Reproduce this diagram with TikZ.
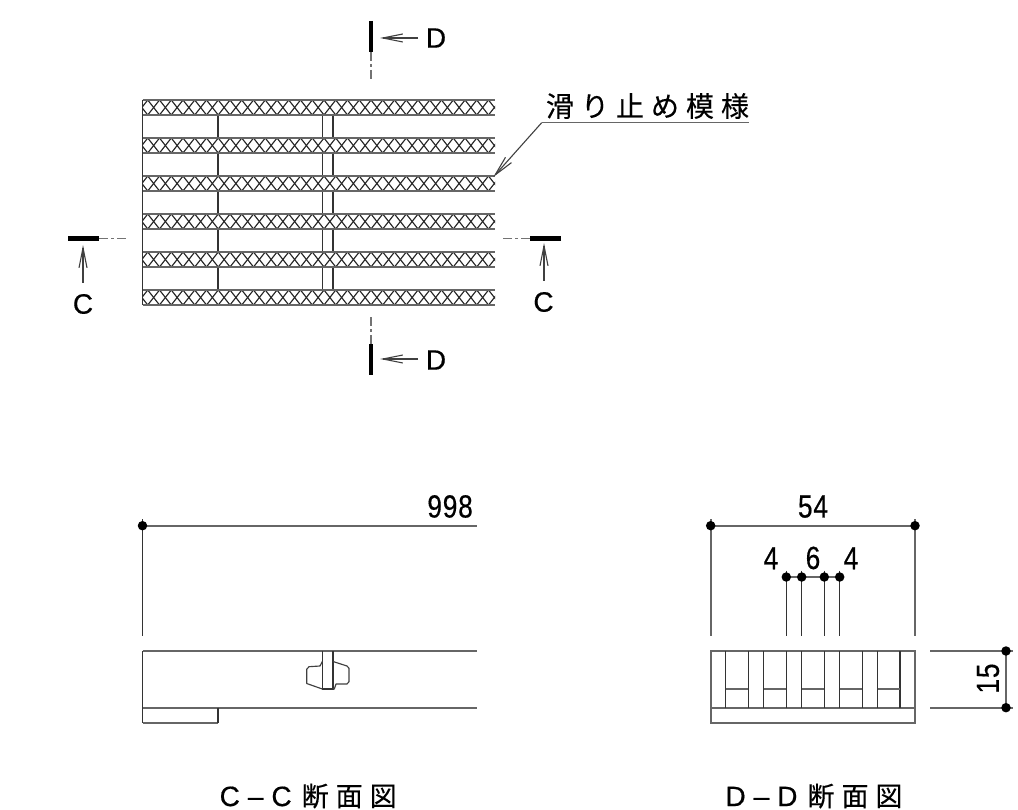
\documentclass[tikz,border=0pt]{standalone}
\usepackage{fontspec}
\setmainfont{Liberation Sans}
\newfontfamily\cjk[FakeBold=0.35]{Noto Sans CJK JP}
\newfontfamily\lab[FakeBold=0.5]{Liberation Sans}
\usetikzlibrary{arrows.meta,backgrounds}
\newcommand{\narrownum}[1]{\scalebox{0.82}[1]{\lab\fontsize{32}{32}\selectfont #1}}
\tikzset{
  ln/.style={line width=1.25pt,draw=black!80},
  hl/.style={line width=1.6pt,draw=black!60},
  hatchline/.style={line width=1.15pt,draw=black!85},
  lug/.style={line width=1.15pt,draw=black!75,line join=round},
  thick mark/.style={line width=4.4pt,draw=black},
  chain/.style={line width=1.4pt,draw=black!55,dash pattern=on 9pt off 3pt on 3pt off 3pt},
  arr/.style={line width=1.1pt,draw=black!75,-{Straight Barb[length=20pt,width=8pt]}},
  lbl/.style={font=\lab\fontsize{28}{28}\selectfont,inner sep=0pt,text=black},
  dimtxt/.style={inner sep=0pt,text=black},
  dot/.style={circle,fill=black,inner sep=0pt,minimum size=9.5pt},
  jp/.style={font=\cjk\fontsize{28}{28}\selectfont,inner sep=0pt,text=black},
  jpt/.style={font=\lab\fontsize{28}{28}\selectfont,inner sep=0pt,text=black}
}
\begin{document}
\begin{tikzpicture}[x=1pt,y=-1pt]
\useasboundingbox (0,0) rectangle (1018,810);
% verticals in the gaps
\draw[ln] (142.5,100) -- (142.5,305);
\foreach \y in {115,153,191,229,267}{
  \draw[ln] (218,\y) -- (218,\y+23);
  \draw[ln] (322.3,\y) -- (322.3,\y+23);
  \draw[ln] (333,\y) -- (333,\y+23);
}
% tread bars
\foreach \y in {100,138,176,214,252,290}{
  \begin{scope}
    \clip (142.5,\y) rectangle (495,\y+15);
    \foreach \k in {0,...,30}{
      \draw[hatchline] (136+\k*11.75,\y) -- (147.75+\k*11.75,\y+15);
      \draw[hatchline] (147.75+\k*11.75,\y) -- (136+\k*11.75,\y+15);
    }
  \end{scope}
  \draw[hl] (142.5,\y) -- (495,\y);
  \draw[hl] (142.5,\y+15) -- (495,\y+15);
}
% section marks
\coordinate (cl1) at (68,238.5); \coordinate (cl2) at (99,238.5); \coordinate (cl3) at (128,238.5);
\coordinate (cla) at (83,283); \coordinate (clb) at (83,245);
\node[lbl] (cleft) at (83,304) {C};
\draw[thick mark] (cl1) -- (cl2); \draw[chain] (cl2) -- (cl3); \draw[arr] (cla) -- (clb);
\coordinate (cr1) at (561,238.5); \coordinate (cr2) at (530,238.5); \coordinate (cr3) at (501,238.5);
\coordinate (cra) at (544,281); \coordinate (crb) at (544,243);
\node[lbl] (cright) at (543.5,302) {C};
\draw[thick mark] (cr1) -- (cr2); \draw[chain] (cr2) -- (cr3); \draw[arr] (cra) -- (crb);
\coordinate (dt1) at (371,21); \coordinate (dt2) at (371,52); \coordinate (dt3) at (371,80);
\coordinate (dta) at (418,38); \coordinate (dtb) at (380,38);
\node[lbl] (dtop) at (436,38) {D};
\draw[thick mark] (dt1) -- (dt2); \draw[chain] (dt2) -- (dt3); \draw[arr] (dta) -- (dtb);
\coordinate (db1) at (371,375); \coordinate (db2) at (371,344); \coordinate (db3) at (371,316);
\coordinate (dba) at (418,359); \coordinate (dbb) at (380,359);
\node[lbl] (dbot) at (436,360) {D};
\draw[thick mark] (db1) -- (db2); \draw[chain] (db2) -- (db3); \draw[arr] (dba) -- (dbb);
% leader
\node[jp] (pat) at (647.5,106) {滑\hspace{7pt}り\hspace{7pt}止\hspace{7pt}め\hspace{7pt}模\hspace{7pt}様};
\coordinate (ul) at (541.7,122.7); \coordinate (ur) at (749,122.7); \coordinate (lt) at (493.3,177);
\draw[hl] (ul) -- (ur);
\draw[arr] (ul) -- (lt);
% C-C section
\draw[hl] (142.5,651) -- (477,651);
\draw[hl] (142.5,707.7) -- (477,707.7);
\draw[hl] (142.5,722.7) -- (218,722.7);
\draw[ln] (142.5,651) -- (142.5,722.7);
\draw[ln] (218,707.7) -- (218,722.7);
\draw[ln] (322.3,651) -- (322.3,689) -- (333,689) -- (333,651);
\draw[lug] (322.3,661.5) -- (320,666) -- (309,666.7) -- (306.7,669.3) -- (306.7,683.5) -- (322.3,689);
\draw[lug] (333,661.5) -- (347,666) -- (349,668.3) -- (349,681.7) -- (347,684) -- (336,684) -- (334.3,689) -- (333,689);
% D-D section
\draw[hl] (710.7,707.7) -- (915,707.7);
\draw[hl] (710.7,651) rectangle (915,722.7);
\foreach \a/\b in {725.7/748.3,763.7/786.3,801.7/824.3,839.7/862.3,877.7/900}{
  \draw[ln] (\a,651) -- (\a,707.7);
  \draw[ln] (\b,651) -- (\b,707.7);
  \draw[hl] (\a,689) -- (\b,689);
}
% dimension 998
\node[dot] (a1) at (142.5,525.7) {};
\coordinate (a2) at (477,525.7); \coordinate (a3) at (142.5,636); \coordinate (a4) at (142.5,519);
\begin{pgfonlayer}{background}
\draw[hl] (a1.center) -- (a2); \draw[ln] (a4) -- (a3);
\end{pgfonlayer}
\node[dimtxt,anchor=south east] (t998) at (473,518) {\narrownum{9\hspace{1pt}9\hspace{1pt}8}};
% dimension 54
\node[dot] (b1) at (710.7,525.7) {};
\node[dot] (b2) at (915,525.7) {};
\coordinate (b3) at (710.7,636); \coordinate (b4) at (915,636);
\coordinate (b5) at (710.7,519); \coordinate (b6) at (915,519);
\begin{pgfonlayer}{background}
\draw[hl] (b1.center) -- (b2.center); \draw[hl] (b5) -- (b3); \draw[hl] (b6) -- (b4);
\end{pgfonlayer}
\node[dimtxt,anchor=south] (t54) at (813,518) {\narrownum{5\hspace{1pt}4}};
% dimension 4 6 4
\foreach \n/\x in {c1/786.3,c2/801.7,c3/824.3,c4/839.7}{
  \node[dot] (\n) at (\x,577) {};
  \coordinate (\n t) at (\x,570.5);
  \coordinate (\n b) at (\x,636);
  \begin{pgfonlayer}{background}
  \draw[ln] (\n t) -- (\n b);
  \end{pgfonlayer}
}
\begin{pgfonlayer}{background}
\draw[hl] (c1.center) -- (c4.center);
\end{pgfonlayer}
\node[dimtxt,anchor=south] (t4a) at (771,569.5) {\narrownum{4}};
\node[dimtxt,anchor=south] (t6) at (813,569.5) {\narrownum{6}};
\node[dimtxt,anchor=south] (t4b) at (851,569.5) {\narrownum{4}};
% dimension 15
\coordinate (e1) at (930,651); \coordinate (e2) at (1013,651);
\coordinate (e3) at (930,707.7); \coordinate (e4) at (1013,707.7);
\node[dot] (f1) at (1006,651) {};
\node[dot] (f2) at (1006,707.7) {};
\begin{pgfonlayer}{background}
\draw[hl] (e1) -- (e2); \draw[hl] (e3) -- (e4);
\draw[hl] (f1.center) -- (f2.center);
\end{pgfonlayer}
\node[dimtxt,rotate=90] (t15) at (988,678.5) {\narrownum{1\hspace{1pt}5}};
% titles
\node[jpt] (tc) at (308.2,796) {C\hspace{8pt}–\hspace{8pt}C\hspace{10pt}{\cjk\fontsize{27}{27}\selectfont 断\hspace{7pt}面\hspace{7pt}図}};
\node[jpt] (td) at (814,796) {D\hspace{8pt}–\hspace{8pt}D\hspace{10pt}{\cjk\fontsize{27}{27}\selectfont 断\hspace{7pt}面\hspace{7pt}図}};
\end{tikzpicture}
\end{document}
